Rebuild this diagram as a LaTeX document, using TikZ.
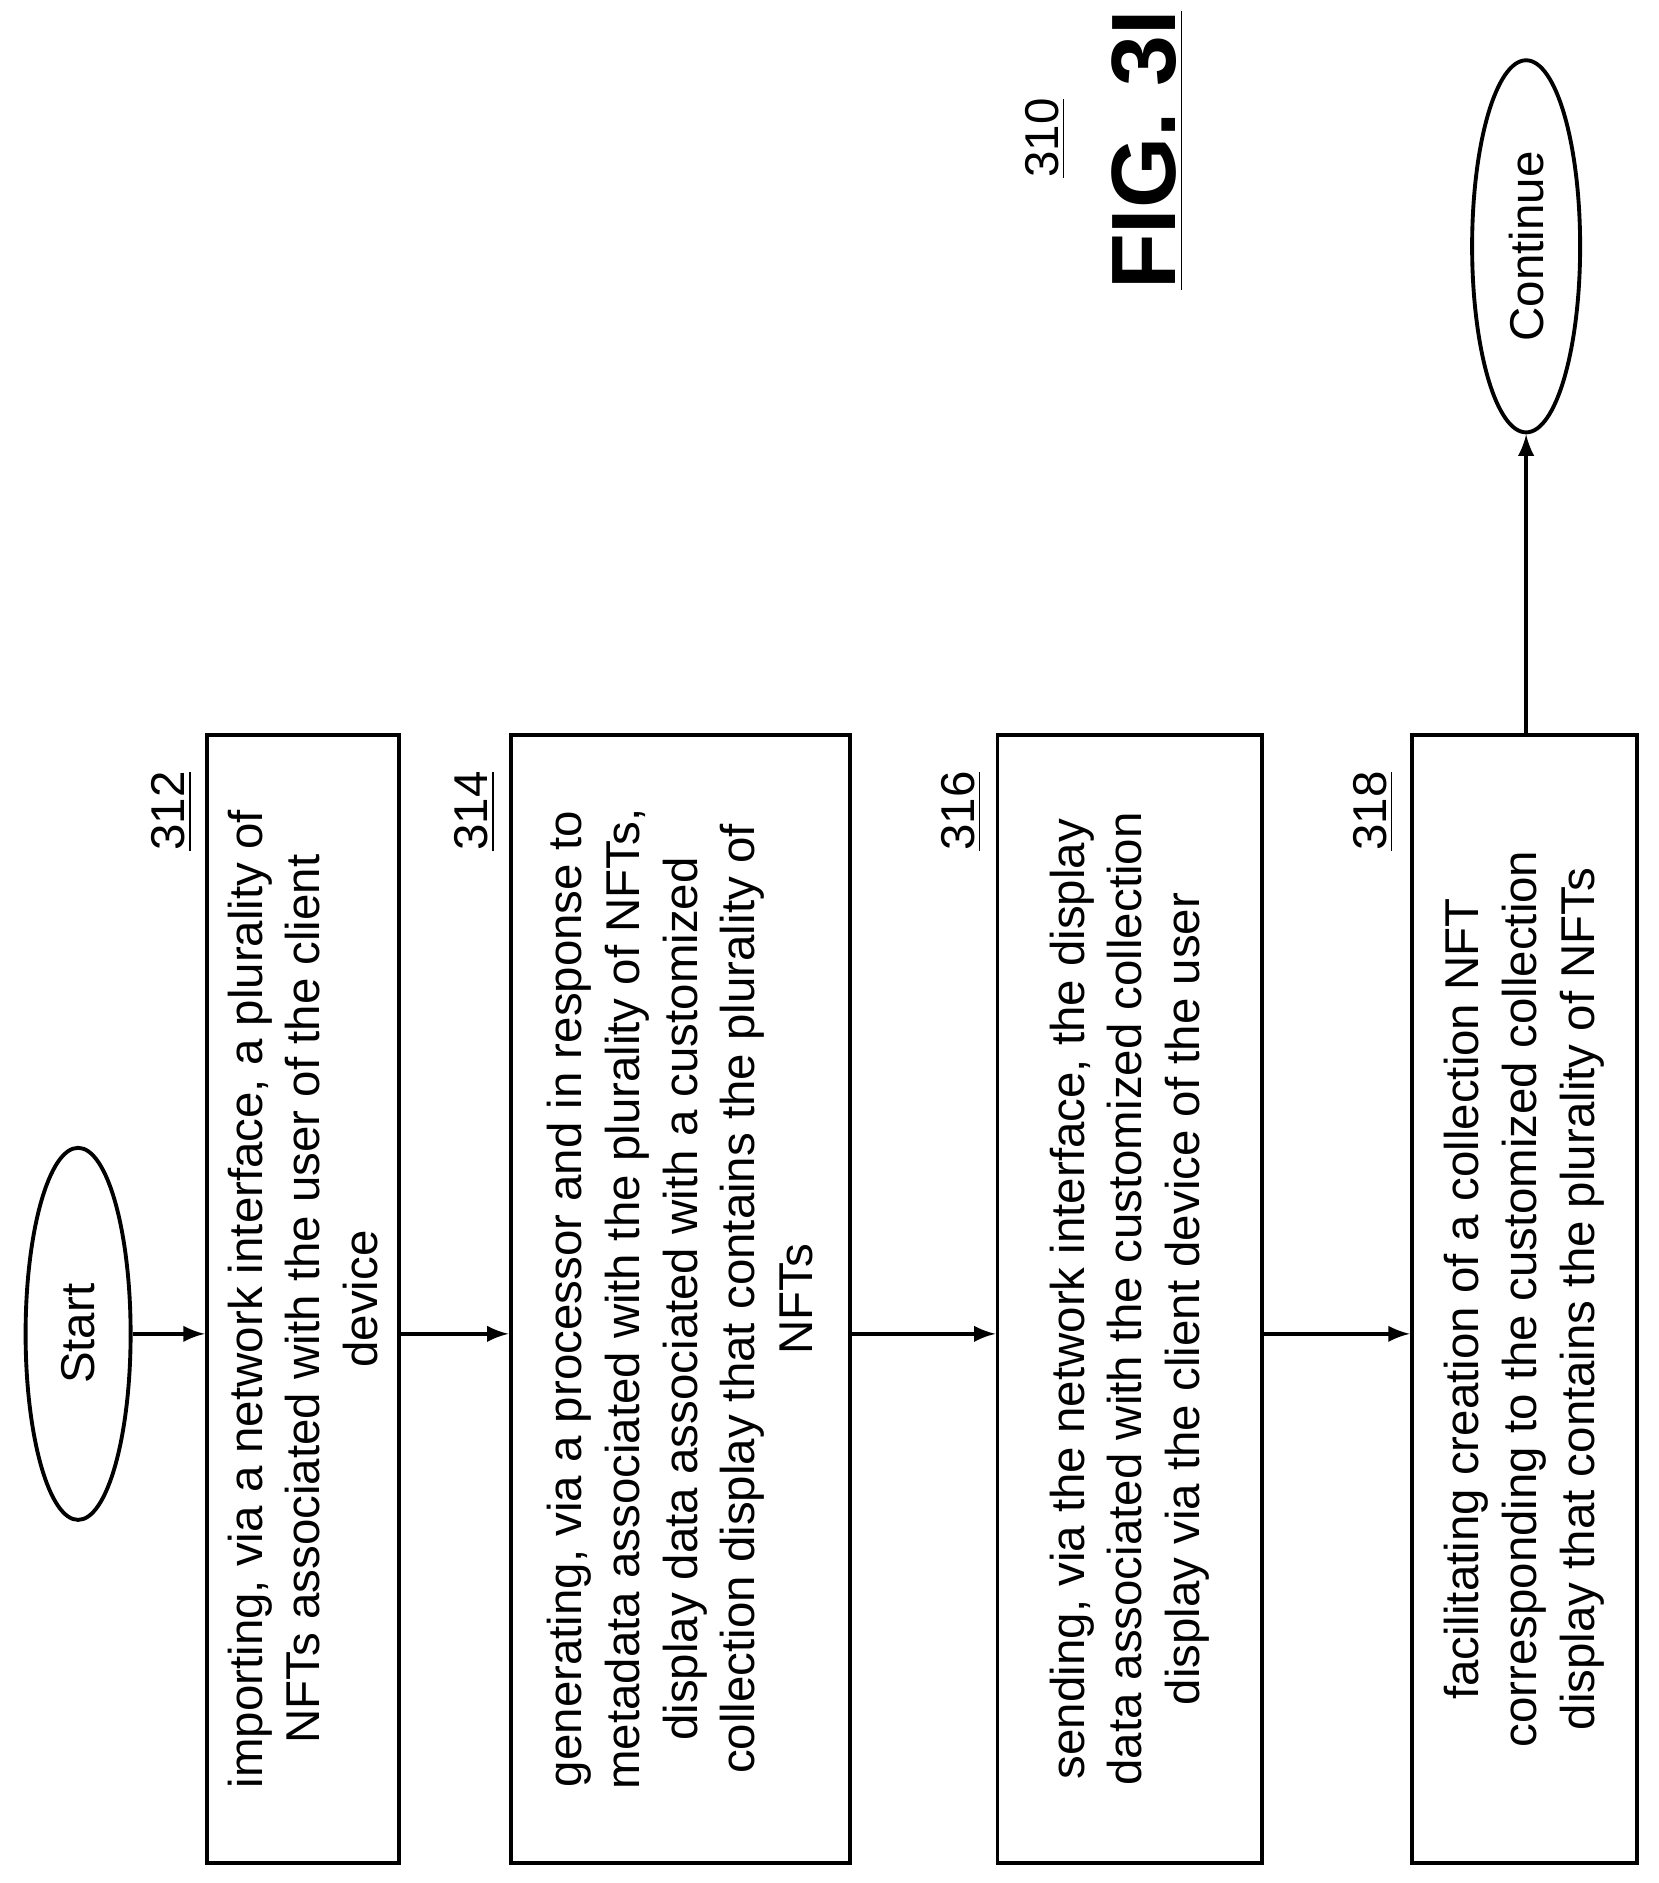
\documentclass[tikz,border=0pt]{standalone}
\usepackage{fontspec}
\setmainfont{Liberation Sans}
\usetikzlibrary{shapes.geometric}
\begin{document}
\begin{tikzpicture}[x=0.12014cm, y=-0.12014cm, > = latex, line width=1.1pt,
  box/.style = {draw, rectangle, minimum height=11.27cm, inner sep=0pt},
  term/.style = {draw, ellipse, minimum width=1.05cm, minimum height=3.72cm, inner sep=0pt},
  txt/.style = {rotate=90, align=center, font=\fontsize{13.5}{16.4}\selectfont},
  num/.style = {rotate=90, font=\fontsize{13.5}{16.4}\selectfont}]

	\useasboundingbox (0, 0) rectangle (138, 156.7);

	% Terminals

	\node [term] (start) at (6.5, 111) {};
	\node [txt] (starttxt) at (start) {Start};
	\node [term, minimum width=1.08cm] (cont) at (127, 20.5) {};
	\node [txt] (conttxt) at (cont) {Continue};

	% Steps

	\node [box, minimum width=1.92cm] (b312) at (25.2, 108.1) {};
	\node [txt] (t312) at (b312) {importing, via a network interface, a plurality of\\ NFTs associated with the user of the client\\ device};
	\node [num] (n312) at (14.3, 67.5) {\underline{312}};

	\node [box, minimum width=3.39cm] (b314) at (56.6, 108.1) {};
	\node [txt] (t314) at (b314) {generating, via a processor and in response to\\ metadata associated with the plurality of NFTs,\\ display data associated with a customized\\ collection display that contains the plurality of\\ NFTs};
	\node [num] (n314) at (39.5, 67.5) {\underline{314}};

	\node [box, minimum width=2.64cm] (b316) at (94.0, 108.1) {};
	\node [txt] (t316) at (b316) {sending, via the network interface, the display\\ data associated with the customized collection\\ display via the client device of the user};
	\node [num] (n316) at (80, 67.5) {\underline{316}};

	\node [box, minimum width=2.25cm] (b318) at (126.85, 108.1) {};
	\node [txt] (t318) at (b318) {facilitating creation of a collection NFT\\ corresponding to the customized collection\\ display that contains the plurality of NFTs};
	\node [num] (n318) at (114.3, 67.5) {\underline{318}};

	% Figure labels

	\node [num] (n310) at (87, 11.5) {\underline{310}};
	\node [rotate=90, font=\fontsize{26}{30}\selectfont\bfseries] (fig) at (95.5, 12.5) {\underline{FIG. 3I}};

	% Connectors

	\draw [->] (start.east) -- (start.east -| b312.west);
	\draw [->] (b312.east |- start.east) coordinate (a1) -- (a1 -| b314.west);
	\draw [->] (b314.east |- start.east) coordinate (a2) -- (a2 -| b316.west);
	\draw [->] (b316.east |- start.east) coordinate (a3) -- (a3 -| b318.west);
	\draw [->] (b318.north -| cont.south) -- (cont.south);

\end{tikzpicture}
\end{document}
